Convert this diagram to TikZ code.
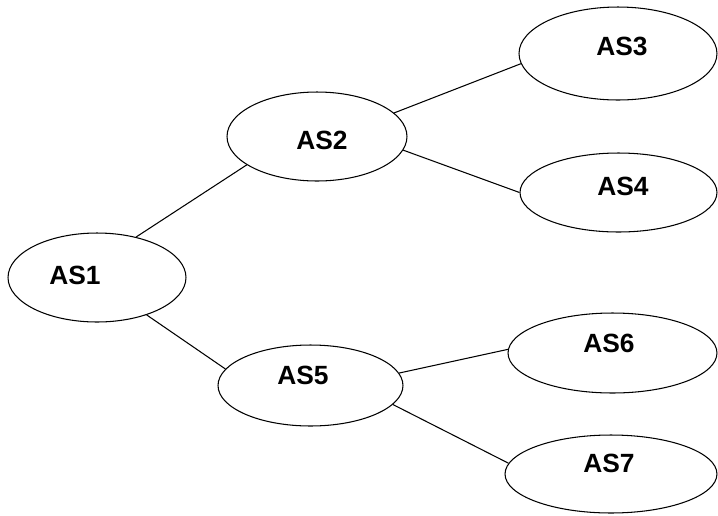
\documentclass[tikz,border=0pt]{standalone}
\usepackage{fontspec}
\setmainfont{Liberation Sans}
\usetikzlibrary{shapes.geometric}

\begin{document}
\begin{tikzpicture}[x=0.02cm,y=0.02cm,
 as/.style ={ellipse,draw=black,line width=0.6pt,inner sep=0pt},
 asname/.style ={font=\fontsize{15}{18}\selectfont\bfseries},
 link/.style ={-,draw=black,line width=0.6pt}
 ]
\useasboundingbox (0,0) rectangle (718,-515);
%draw root
\node[as,minimum width=3.56cm,minimum height=1.78cm,
 label={[asname,xshift=-0.44cm,yshift=0.05cm]center:AS1}] (as1) at (97,-277.5) {};
%draw upper branch
\node[as,minimum width=3.6cm,minimum height=1.78cm,
 label={[asname,xshift=0.1cm,yshift=-0.07cm]center:AS2}] (as2) at (317,-136.5) {};
\node[as,minimum width=3.96cm,minimum height=1.86cm,
 label={[asname,xshift=0.08cm,yshift=0.15cm]center:AS3}] (as3) at (618,-53.5) {};
\node[as,minimum width=3.94cm,minimum height=1.58cm,
 label={[asname,xshift=0.09cm,yshift=0.13cm]center:AS4}] (as4) at (618.5,-192.5) {};
%draw lower branch
\node[as,minimum width=3.7cm,minimum height=1.62cm,
 label={[asname,xshift=-0.15cm,yshift=0.21cm]center:AS5}] (as5) at (310.5,-385.5) {};
\node[as,minimum width=4.18cm,minimum height=1.6cm,
 label={[asname,xshift=-0.07cm,yshift=0.2cm]center:AS6}] (as6) at (612.5,-353) {};
\node[as,minimum width=4.24cm,minimum height=1.56cm,
 label={[asname,xshift=-0.04cm,yshift=0.22cm]center:AS7}] (as7) at (611,-474) {};
%draw links
\draw[link] (as1.46) -- (as2.202);
\draw[link] (as2.17) -- (as3.186);
\draw[link] (as2.-9) -- (as4.180);
\draw[link] (as1.-37) -- (as5.169);
\draw[link] (as5.8) -- (as6.178);
\draw[link] (as5.-13) -- (as7.174);
\end{tikzpicture}
\end{document}
